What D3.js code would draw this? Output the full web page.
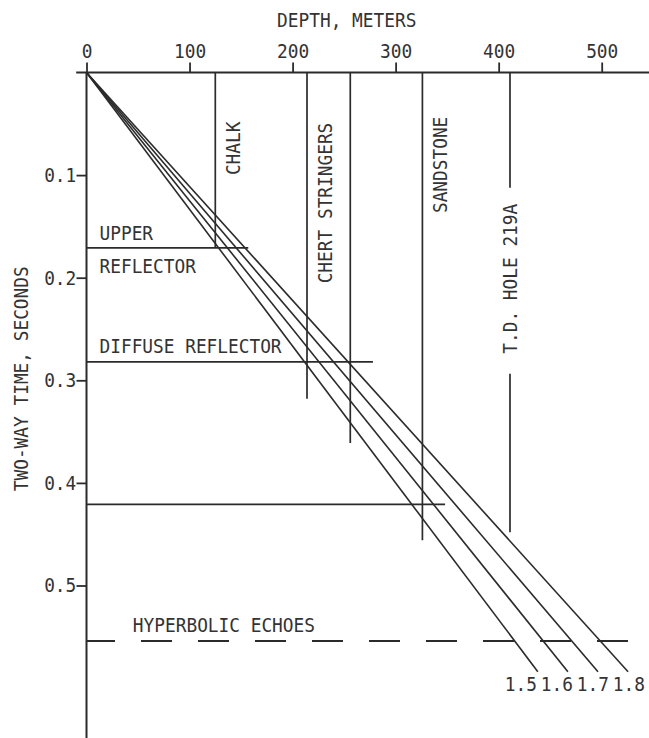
<!DOCTYPE html>
<html>
<head>
<meta charset="utf-8">
<script src="https://cdn.jsdelivr.net/npm/d3@7"></script>
<style>
  html, body { margin: 0; padding: 0; background: #ffffff; }
  svg { display: block; }
  text { font-family: "DejaVu Sans Mono", monospace; font-size: 20px; fill: #333333; }
</style>
</head>
<body>
<svg id="chart" width="649" height="738"></svg>
<script>
// Interval velocities (km/s) used to convert two-way time to depth
const velocities = [1.5, 1.6, 1.7, 1.8];
const velocityLabels = ["1.5", "1.6", "1.7", "1.8"];
const velocityEndTime = 0.584;          // s, where the conversion lines stop

// Axis ticks
const depthTicks = [0, 100, 200, 300, 400, 500];          // m
const timeTicks = [0.1, 0.2, 0.3, 0.4, 0.5];              // s

// Lithologic boundaries from the drill hole (depth, m) and how far down each is drawn (s)
const boundaryDepths = [125, 214, 256, 326];
const boundaryEndTimes = [0.171, 0.318, 0.361, 0.456];

// Lithology names, each written beside its boundary
const unitNames = ["CHALK", "CHERT STRINGERS", "SANDSTONE"];
const unitBoundaryIndex = [0, 1, 3];
const unitLabelTimes = [0.100, 0.2055, 0.137];            // s, where each name starts

// Seismic reflectors (two-way time, s) and how far across each is drawn (m)
const reflectorTimes = [0.171, 0.282, 0.421];
const reflectorDepths = [157, 278, 348];

// Total depth of Hole 219A
const tdDepth = 411;
const tdEndTime = 0.448;
const tdLabel = "T.D. HOLE 219A";
const tdLabelTime = 0.201;

// Hyperbolic echoes level
const echoTime = 0.554;
const echoDepth = 529;

const svg = d3.select("#chart");
const ink = "#2b2b2b";
const sx = 0.89;   // narrow lettering

const x = d3.scaleLinear().domain([0, 500]).range([86.5, 601.7]);
const y = d3.scaleLinear().domain([0, 0.5]).range([72.5, 585.5]);

// ---- Top depth axis ----
const xAxis = d3.axisTop(x).tickValues(depthTicks).tickFormat(d3.format("d"))
  .tickSize(10).tickPadding(5);
const gx = svg.append("g").attr("transform", `translate(0,${y(0)})`).call(xAxis);
gx.select(".domain").remove();
gx.selectAll(".tick line").attr("stroke", ink).attr("stroke-width", 1.8);
gx.selectAll("text").attr("font-size", 20).attr("font-family", null)
  .attr("fill", "#333").attr("transform", `scale(${sx},1)`);
svg.append("line")
  .attr("x1", x(-10)).attr("x2", 649)
  .attr("y1", y(0)).attr("y2", y(0))
  .attr("stroke", ink).attr("stroke-width", 2);

svg.append("text")
  .attr("transform", `translate(${x(185)},27) scale(${sx},1)`)
  .text("DEPTH, METERS");

// ---- Left time axis ----
const yAxis = d3.axisLeft(y).tickValues(timeTicks).tickFormat(d3.format(".1f"))
  .tickSize(10).tickPadding(1.5);
const gy = svg.append("g").attr("transform", `translate(${x(0)},0)`).call(yAxis);
gy.select(".domain").remove();
gy.selectAll(".tick line").attr("stroke", ink).attr("stroke-width", 1.8);
gy.selectAll("text").attr("font-size", 20).attr("font-family", null)
  .attr("fill", "#333").attr("transform", `scale(${sx},1)`);
svg.append("line")
  .attr("x1", x(0)).attr("x2", x(0))
  .attr("y1", y(0)).attr("y2", 738)
  .attr("stroke", ink).attr("stroke-width", 2);

svg.append("text")
  .attr("transform", `translate(28,${y(0.2985)}) rotate(-90) scale(${sx},1)`)
  .attr("text-anchor", "middle")
  .text("TWO-WAY TIME, SECONDS");

// ---- Lithologic boundaries ----
svg.append("g").selectAll("line").data(boundaryDepths).join("line")
  .attr("x1", d => x(d)).attr("x2", d => x(d))
  .attr("y1", y(0)).attr("y2", (d, i) => y(boundaryEndTimes[i]))
  .attr("stroke", ink).attr("stroke-width", 1.7);

svg.append("g").selectAll("text").data(unitNames).join("text")
  .attr("transform", (d, i) =>
    `translate(${x(boundaryDepths[unitBoundaryIndex[i]]) + 25},${y(unitLabelTimes[i])}) rotate(-90) scale(${sx},1)`)
  .text(d => d);

// ---- Total depth marker, broken around its label ----
const tdText = svg.append("text")
  .attr("transform", `translate(${x(tdDepth) + 7.5},${y(tdLabelTime)}) rotate(-90) scale(${sx},1)`)
  .attr("text-anchor", "middle")
  .text(tdLabel);
const tdHalf = tdText.node().getComputedTextLength() * sx / 2;
svg.append("g").selectAll("line")
  .data([[y(0), y(tdLabelTime) - tdHalf - 16], [y(tdLabelTime) + tdHalf + 20, y(tdEndTime)]])
  .join("line")
  .attr("x1", x(tdDepth)).attr("x2", x(tdDepth))
  .attr("y1", d => d[0]).attr("y2", d => d[1])
  .attr("stroke", ink).attr("stroke-width", 1.7);

// ---- Reflectors ----
svg.append("g").selectAll("line").data(reflectorTimes).join("line")
  .attr("x1", x(0)).attr("x2", (d, i) => x(reflectorDepths[i]))
  .attr("y1", d => y(d)).attr("y2", d => y(d))
  .attr("stroke", ink).attr("stroke-width", 1.7);

const reflectorText = (str, t, dy) => svg.append("text")
  .attr("transform", `translate(${x(0) + 13},${y(t) + dy}) scale(${sx},1)`)
  .text(str);
reflectorText("UPPER", reflectorTimes[0], -8);
reflectorText("REFLECTOR", reflectorTimes[0], 25);
reflectorText("DIFFUSE REFLECTOR", reflectorTimes[1], -8.5);

// ---- Hyperbolic echoes ----
svg.append("line")
  .attr("x1", x(0)).attr("x2", x(echoDepth))
  .attr("y1", y(echoTime)).attr("y2", y(echoTime))
  .attr("stroke", ink).attr("stroke-width", 2)
  .attr("stroke-dasharray", "31 26")
  .attr("stroke-dashoffset", 2.5);
svg.append("text")
  .attr("transform", `translate(${x(45)},${y(echoTime) - 9}) scale(${sx},1)`)
  .text("HYPERBOLIC ECHOES");

// ---- Time-depth conversion lines: depth = v * t / 2 ----
const depthAt = (v, t) => v * 1000 * t / 2;
svg.append("g").selectAll("line").data(velocities).join("line")
  .attr("x1", x(0)).attr("y1", y(0))
  .attr("x2", v => x(depthAt(v, velocityEndTime)))
  .attr("y2", y(velocityEndTime))
  .attr("stroke", ink).attr("stroke-width", 1.6);

svg.append("g").selectAll("text").data(velocityLabels).join("text")
  .attr("transform", (d, i) =>
    `translate(${x(depthAt(velocities[0], velocityEndTime)) - 33 + i * 36},${y(velocityEndTime) + 19}) scale(${sx},1)`)
  .text(d => d);
</script>
</body>
</html>
